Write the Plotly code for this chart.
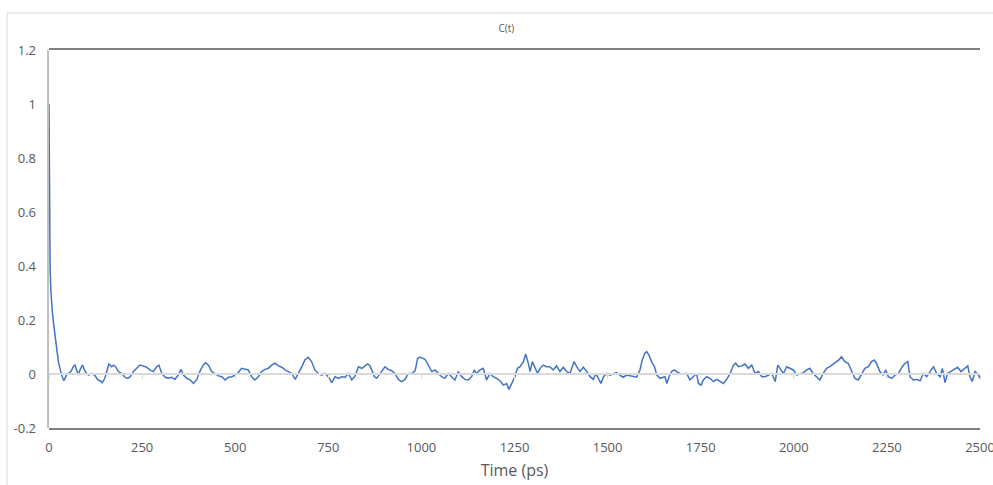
import plotly.graph_objects as go

# Time (ps)
time_ps = [0, 1, 2, 3, 5, 7, 9, 12, 15, 18, 22, 26, 30, 34, 40,
           47, 52, 59, 65, 70, 74, 79, 83, 90, 97, 106, 115, 124, 131, 137, 143, 150, 155, 161, 168,
           173, 179, 186, 195, 204, 211, 218, 227, 235, 244, 253, 262, 271, 280, 289, 295, 303, 312,
           320, 329, 338, 347, 355, 361, 370, 379, 388, 397, 405, 414, 421, 428, 437, 446, 455, 464,
           473, 482, 491, 500, 508, 517, 526, 535, 544, 553, 562, 571, 580, 589, 598, 607, 616, 625,
           634, 643, 652, 661, 670, 679, 687, 696, 705, 714, 723, 732, 741, 750, 759, 768, 777, 786,
           795, 804, 813,
           822, 831, 840, 849, 856, 862, 866, 874, 880, 886, 893, 902, 911, 920, 929, 938, 947, 956,
           965, 974, 983, 990, 996, 1005, 1011, 1019, 1028, 1037, 1045, 1054, 1063, 1072, 1081, 1090,
           1099, 1108, 1117, 1126, 1135, 1142, 1148, 1157, 1166, 1175, 1184, 1193, 1202, 1211, 1220,
           1229, 1235, 1242, 1251, 1258, 1265, 1274, 1280, 1287, 1292, 1298, 1305, 1312, 1319, 1327,
           1336, 1345, 1354, 1363, 1372, 1381, 1390, 1399, 1410, 1417, 1426, 1435, 1444, 1453, 1462,
           1468, 1475, 1482, 1489, 1498, 1506, 1515, 1524, 1533, 1542, 1551, 1560, 1569, 1578, 1587,
           1593, 1600, 1605, 1611, 1618, 1626, 1632, 1641, 1650,
           1654, 1659, 1665, 1672, 1679, 1685, 1694, 1703, 1712, 1721, 1730, 1739, 1744, 1751, 1757,
           1766, 1775, 1784, 1793, 1802, 1811, 1820, 1829, 1838, 1844, 1851, 1860, 1869, 1878, 1887,
           1896, 1905, 1914, 1923, 1932, 1941, 1950, 1957, 1963, 1972, 1981, 1990, 1999, 2008, 2017,
           2026, 2035, 2043, 2052, 2061, 2070, 2079, 2088, 2097, 2106, 2115, 2121, 2128, 2137, 2146,
           2155, 2164, 2173, 2182, 2191, 2200, 2209, 2216, 2222, 2231, 2240, 2247, 2254, 2263, 2272,
           2281, 2291, 2299, 2306, 2312, 2321, 2330, 2339, 2348, 2357, 2366, 2375, 2384, 2393, 2399,
           2406, 2413, 2422, 2431, 2440, 2449, 2458, 2467, 2473, 2479, 2487, 2496, 2500]

# C(t)
c_values = [1.0, 0.62, 0.47, 0.39, 0.31, 0.26, 0.23, 0.19, 0.15, 0.12, 0.08, 0.04, 0.015, -0.005, -0.025,
            -0.004, 0.002, 0.009, 0.027, 0.033, 0.015, -0.004, 0.015, 0.033, 0.009, -0.004, 0.002, -0.007,
            -0.022, -0.025, -0.032, -0.016, 0.009, 0.037, 0.027,
            0.033, 0.027, 0.009, 0.002, -0.012, -0.016, -0.010, 0.009, 0.021, 0.033, 0.030, 0.025, 0.015,
            0.009, 0.027, 0.033, 0.002, -0.012,
            -0.016, -0.012, -0.020, -0.004, 0.017, -0.004, -0.016, -0.022, -0.035, -0.020, 0.009, 0.033,
            0.042, 0.033, 0.009, 0.002, -0.007, -0.010,
            -0.022, -0.012, -0.010, -0.004, 0.005, 0.021, 0.017, 0.015, -0.010, -0.022, -0.010, 0.009,
            0.017, 0.021, 0.033, 0.040, 0.030, 0.025,
            0.015, 0.009, 0.002, -0.020, 0.002, 0.027, 0.052, 0.062, 0.046, 0.015, 0.002, -0.004, 0.002,
            -0.010, -0.032, -0.010, -0.016, -0.010,
            -0.012, 0.002, -0.022,
            -0.007, 0.027, 0.021, 0.030, 0.037, 0.030, 0.015, -0.010, -0.016, -0.004, 0.009, 0.027, 0.017,
            0.012, 0.002, -0.020, -0.028, -0.020,
            0.002, 0.002, 0.012, 0.058, 0.062, 0.058, 0.052, 0.033, 0.009, 0.015, 0.002, -0.010, -0.016,
            0.002, -0.010, -0.022,
            0.009, -0.010, -0.020, -0.022, -0.010, 0.015, 0.002, 0.015, 0.021, -0.022, 0.002, -0.010,
            -0.016, -0.025, -0.041,
            -0.035, -0.057, -0.035, -0.010, 0.021, 0.027, 0.046, 0.074, 0.040, 0.009, 0.046, 0.021, 0.002,
            0.021, 0.033,
            0.027, 0.027, 0.015, 0.030, 0.009, 0.025, 0.009, 0.002, 0.046, 0.027, 0.009, 0.025, 0.009,
            -0.010, -0.020,
            0.002, -0.016, -0.035, -0.010, 0.002, -0.004, 0.002, 0.005, -0.004, -0.012, -0.004, -0.007,
            -0.010, -0.012, 0.015,
            0.052, 0.077, 0.083, 0.070, 0.046, 0.027, -0.004, -0.016, -0.010,
            -0.010, -0.035, -0.010, 0.009, 0.015, 0.009, 0.002, -0.001, 0.002, -0.022, -0.010, 0.002,
            -0.035, -0.041, -0.022,
            -0.010, -0.016, -0.028, -0.020, -0.028, -0.035, -0.020, 0.002, 0.033, 0.040, 0.027, 0.030,
            0.037, 0.021, 0.033,
            0.002, 0.009, -0.010, -0.010, -0.004, 0.002, -0.028, 0.033, 0.021, 0.002, 0.027, 0.021, 0.015,
            -0.004, 0.002,
            0.005, 0.015, 0.021, 0.002, -0.010, -0.022, 0.002, 0.021, 0.027, 0.037, 0.046, 0.052, 0.064,
            0.046, 0.040,
            0.015, -0.016, -0.022, 0.002, 0.021, 0.027, 0.046, 0.052, 0.040, 0.009, -0.004, 0.015, -0.010,
            -0.016, -0.004,
            0.002, 0.027, 0.040, 0.046, -0.010, -0.022, -0.020, -0.025, 0.002, -0.010, 0.009, 0.027, 0.002,
            -0.010, 0.021,
            -0.032, 0.002, 0.009, 0.017, 0.025, 0.009, 0.021, 0.030, -0.010, -0.028, 0.009, -0.004, -0.016]

x_ticks = [0, 250, 500, 750, 1000, 1250, 1500, 1750, 2000, 2250, 2500]
y_ticks = [-0.2, 0, 0.2, 0.4, 0.6, 0.8, 1, 1.2]
y_tick_labels = ["-0.2", "0", "0.2", "0.4", "0.6", "0.8", "1", "1.2"]

FONT = "Open Sans"
GREY_TXT = "#595959"

fig = go.Figure()
# helper trace for the zero-crossing axis with tick marks
fig.add_trace(go.Scatter(x=[x_ticks[0], x_ticks[-1]], y=[None, None], xaxis="x2",
                         mode="lines", showlegend=False, hoverinfo="skip"))
fig.add_trace(go.Scatter(x=time_ps, y=c_values, mode="lines", cliponaxis=False,
                         line=dict(color="#4472C4", width=1.5), showlegend=False))

fig.update_layout(
    width=993, height=485,
    margin=dict(l=49, r=13, t=50, b=57, autoexpand=False),
    paper_bgcolor="white", plot_bgcolor="white",
    font=dict(family=FONT, color=GREY_TXT),
    title=dict(text="C(t)", x=0.51, xref="container", y=0.942, yref="container",
               xanchor="center", yanchor="middle", font=dict(size=10, color=GREY_TXT, family=FONT)),
    xaxis=dict(range=[0, 2500], tickvals=x_ticks, ticktext=[str(v) for v in x_ticks],
               showgrid=False, zeroline=False, showline=True, linecolor="#808080", linewidth=2,
               mirror=True, ticks="", tickfont=dict(size=13, color=GREY_TXT),
               ticklabelstandoff=6, automargin=False, ticklabeloverflow="allow",
               title=dict(text="Time (ps)", font=dict(size=16, color=GREY_TXT), standoff=10)),
    xaxis2=dict(range=[0, 2500], overlaying="x", anchor="free", position=0.2 / 1.4,
                side="bottom", tickvals=x_ticks, showticklabels=False, showgrid=False,
                zeroline=False, showline=True, linecolor="#d9d9d9", linewidth=1.5,
                ticks="outside", ticklen=4, tickcolor="#d9d9d9", tickwidth=1, automargin=False),
    yaxis=dict(range=[-0.2, 1.2], tickvals=y_ticks, ticktext=y_tick_labels,
               showgrid=False, zeroline=False, showline=False, ticks="", automargin=False,
               tickfont=dict(size=13, color=GREY_TXT), ticklabelstandoff=12),
    shapes=[
        # plot-area border (left side lighter, like the value axis)
        dict(type="line", xref="paper", yref="paper", x0=-0.001, x1=-0.001, y0=0, y1=1,
             line=dict(color="#bfbfbf", width=2), layer="below"),
        # outer chart-area border
        dict(type="line", xref="paper", yref="paper", x0=-0.0451, x1=1.02, y0=1.0979, y1=1.0979,
             line=dict(color="#d9d9d9", width=1)),
        dict(type="line", xref="paper", yref="paper", x0=-0.0451, x1=-0.0451, y0=-0.2, y1=1.0979,
             line=dict(color="#d9d9d9", width=1)),
    ],
)

fig.write_html("out.html")
